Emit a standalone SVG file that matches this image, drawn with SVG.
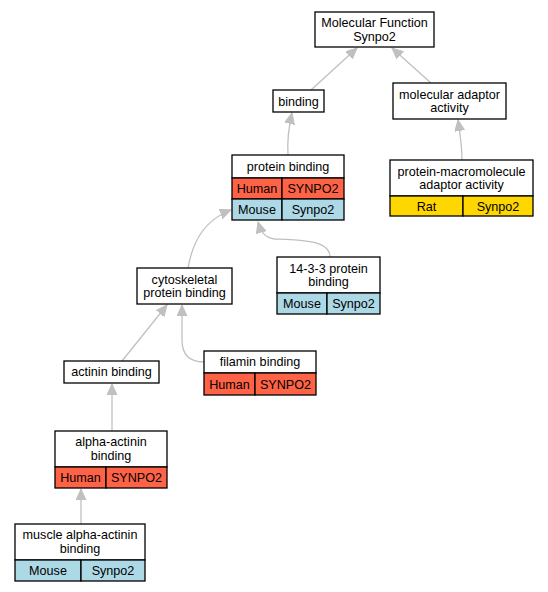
<svg xmlns="http://www.w3.org/2000/svg" width="548" height="592" viewBox="0 0 548 592">
<defs>
<marker id="arr" markerUnits="userSpaceOnUse" markerWidth="13" markerHeight="11" refX="11" refY="5" orient="auto">
<path d="M0,0 L11,5 L0,10 z" fill="#c0c0c0" stroke="#c0c0c0"/>
</marker>
<style>
.e{fill:none;stroke:#c0c0c0;stroke-width:1.3;marker-end:url(#arr)}
.b{fill:#fff;stroke:#000;stroke-width:1.3}
.h{fill:#ff6347;stroke:#000;stroke-width:1.3}
.m{fill:#add8e6;stroke:#000;stroke-width:1.3}
.r{fill:#ffd700;stroke:#000;stroke-width:1.3}
text{font-family:"Liberation Sans",Arial,sans-serif;font-size:12.6px;text-anchor:middle;fill:#000}
</style>
</defs>
<rect width="548" height="592" fill="#fff"/>
<g id="connectors">
<path class="e" d="M311,90 L357,48"/>
<path class="e" d="M431,83 L392,48"/>
<path class="e" d="M288,155 C287,140 289,126 292,113"/>
<path class="e" d="M462,160 C462,146 460,133 458,120"/>
<path class="e" d="M188,268 C193,240 205,220 231,210"/>
<path class="e" d="M330,257 C330,240 300,240 275,239 C265,238 261,232 258,222"/>
<path class="e" d="M122,361 L167,305"/>
<path class="e" d="M204,362 C190,362 182,355 182,340 L182,305"/>
<path class="e" d="M112,431 L112,384"/>
<path class="e" d="M81,524 L81,489"/>
</g>
<g id="mf">
<rect class="b" x="315" y="12" width="119" height="35"/>
<text x="374.5" y="27">Molecular Function</text>
<text x="374.5" y="41">Synpo2</text>
</g>
<g id="binding">
<rect class="b" x="273" y="90" width="51" height="22"/>
<text x="298.5" y="105.5">binding</text>
</g>
<g id="mol-adaptor">
<rect class="b" x="393" y="83" width="113" height="36"/>
<text x="449.5" y="98.5">molecular adaptor</text>
<text x="449.5" y="112">activity</text>
</g>
<g id="protein-binding">
<rect class="b" x="232" y="155" width="112" height="23"/>
<text x="288" y="171">protein binding</text>
<rect class="h" x="232" y="178" width="50" height="21"/>
<rect class="h" x="282" y="178" width="62" height="21"/>
<text x="257" y="193">Human</text>
<text x="313" y="193">SYNPO2</text>
<rect class="m" x="232" y="199" width="50" height="21"/>
<rect class="m" x="282" y="199" width="62" height="21"/>
<text x="257" y="214">Mouse</text>
<text x="313" y="214">Synpo2</text>
</g>
<g id="prot-macro">
<rect class="b" x="390" y="160" width="143" height="36"/>
<text x="461.5" y="175.5">protein-macromolecule</text>
<text x="461.5" y="189">adaptor activity</text>
<rect class="r" x="390" y="196" width="73" height="20"/>
<rect class="r" x="463" y="196" width="70" height="20"/>
<text x="426.5" y="210.5">Rat</text>
<text x="498" y="210.5">Synpo2</text>
</g>
<g id="cytoskeletal">
<rect class="b" x="137" y="268" width="95" height="36"/>
<text x="184.5" y="283.5">cytoskeletal</text>
<text x="184.5" y="297">protein binding</text>
</g>
<g id="p1433">
<rect class="b" x="277" y="257" width="103" height="36"/>
<text x="328.5" y="272.5">14-3-3 protein</text>
<text x="328.5" y="286">binding</text>
<rect class="m" x="277" y="293" width="50" height="21"/>
<rect class="m" x="327" y="293" width="53" height="21"/>
<text x="302" y="308">Mouse</text>
<text x="353.5" y="308">Synpo2</text>
</g>
<g id="actinin">
<rect class="b" x="64" y="361" width="95" height="22"/>
<text x="111.5" y="376">actinin binding</text>
</g>
<g id="filamin">
<rect class="b" x="204" y="351" width="112" height="22"/>
<text x="260" y="366">filamin binding</text>
<rect class="h" x="204" y="373" width="51" height="22"/>
<rect class="h" x="255" y="373" width="61" height="22"/>
<text x="229.5" y="388.5">Human</text>
<text x="285.5" y="388.5">SYNPO2</text>
</g>
<g id="alpha-actinin">
<rect class="b" x="55" y="431" width="112" height="36"/>
<text x="111" y="446">alpha-actinin</text>
<text x="111" y="459.5">binding</text>
<rect class="h" x="55" y="467" width="51" height="21"/>
<rect class="h" x="106" y="467" width="61" height="21"/>
<text x="80.5" y="482">Human</text>
<text x="136.5" y="482">SYNPO2</text>
</g>
<g id="muscle">
<rect class="b" x="15" y="524" width="130" height="36"/>
<text x="80" y="539">muscle alpha-actinin</text>
<text x="80" y="552.5">binding</text>
<rect class="m" x="15" y="560" width="66" height="21"/>
<rect class="m" x="81" y="560" width="64" height="21"/>
<text x="48" y="575">Mouse</text>
<text x="113" y="575">Synpo2</text>
</g>
</svg>
